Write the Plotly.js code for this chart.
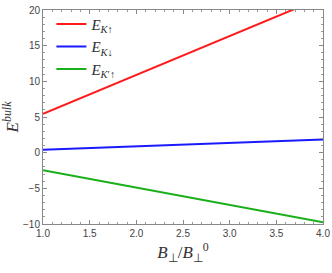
<!DOCTYPE html>
<html><head><meta charset="utf-8">
<script src="https://cdn.plot.ly/plotly-3.0.1.min.js"></script>
<style>html,body{margin:0;padding:0;background:#fff}#c{width:332px;height:273px}</style>
</head><body><div id="c"></div>
<script>
const B = [1.0, 4.0];
const E_Kup = [5.45, 21.8];
const E_Kdown = [0.4, 1.85];
const E_Kpup = [-2.45, -9.75];
const names = ["<i>E</i><sub><i>K</i>↑</sub>", "<i>E</i><sub><i>K</i>↓</sub>", "<i>E</i><sub><i>K</i>′↑</sub>"];
const colors = ["#ff1a1a", "#1a1aff", "#1aaf1a"];
const series = [E_Kup, E_Kdown, E_Kpup];
const traces = series.map((y, i) => ({
  x: B, y: y, mode: 'lines', name: names[i], legendgroup: 'g' + i,
  line: {color: colors[i], width: 2}
}));
const axBase = {
  showgrid: false, zeroline: false, showline: true, mirror: 'allticks',
  linecolor: '#888', linewidth: 1, ticks: 'inside', ticklen: 4, tickcolor: '#888',
  tickfont: {family: 'Liberation Sans, Arial', size: 10, color: '#444'},
  minor: {ticks: 'inside', ticklen: 2, tickcolor: '#999', showgrid: false}
};
const layout = {
  width: 332, height: 273,
  margin: {l: 43, r: 9, t: 8, b: 49},
  paper_bgcolor: '#fff', plot_bgcolor: '#fff',
  showlegend: true,
  legend: {x: 0.03, y: 1.01, xanchor: 'left', yanchor: 'top', bgcolor: 'rgba(0,0,0,0)',
    font: {family: 'Liberation Serif, Times New Roman, serif', size: 15, color: '#333'},
    tracegroupgap: 0, itemwidth: 30},
  xaxis: Object.assign({}, axBase, {
    range: [1, 4], dtick: 0.5, tick0: 1, tickformat: '.1f',
    minor: Object.assign({}, axBase.minor, {dtick: 0.1}),
    title: {text: "<i>B</i><sub>⊥</sub>/<i>B</i><sub>⊥</sub><sup>0</sup>", standoff: 8,
      font: {family: 'Liberation Serif, Times New Roman, serif', size: 17, color: '#333'}}
  }),
  yaxis: Object.assign({}, axBase, {
    range: [-10, 20], dtick: 5, tick0: 0,
    minor: Object.assign({}, axBase.minor, {dtick: 1}),
    title: {text: "<i>E</i><sup><i>bulk</i></sup>", standoff: 6,
      font: {family: 'Liberation Serif, Times New Roman, serif', size: 17, color: '#333'}}
  })
};
Plotly.newPlot('c', traces, layout, {displayModeBar: false, staticPlot: true});
</script></body></html>
